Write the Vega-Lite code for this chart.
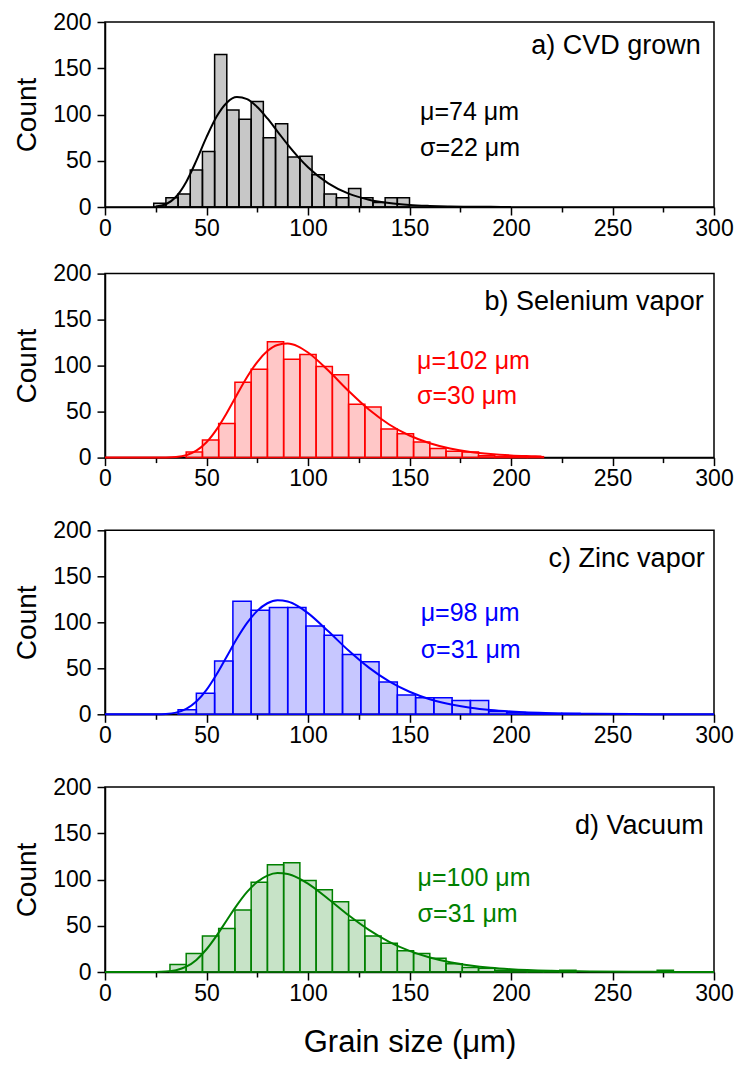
{
  "$schema": "https://vega.github.io/schema/vega-lite/v6.json",
  "background": "white",
  "padding": {"left": 12, "top": 10, "right": 5, "bottom": 5},
  "config": {
    "font": "Liberation Sans",
    "view": {"stroke": "black", "strokeWidth": 1.5},
    "axis": {
      "domainColor": "black", "domainWidth": 1.5, "tickColor": "black", "tickWidth": 1.5,
      "labelFont": "Liberation Sans", "labelFontSize": 23, "labelColor": "black",
      "titleFont": "Liberation Sans", "titleFontWeight": "normal", "titleColor": "black",
      "grid": false, "labelFlush": false, "labelOverlap": false, "labelBound": false
    },
    "axisX": {"labelPadding": 2, "titleFontSize": 31, "titlePadding": 22},
    "axisY": {"labelPadding": 6, "titleFontSize": 28, "titlePadding": 11}
  },
  "datasets": {
    "bars": [
      {"p":"a","x0":24,"x1":30,"n":4},{"p":"a","x0":30,"x1":36,"n":10},{"p":"a","x0":36,"x1":42,"n":14},{"p":"a","x0":42,"x1":48,"n":40},{"p":"a","x0":48,"x1":54,"n":60},{"p":"a","x0":54,"x1":60,"n":165},{"p":"a","x0":60,"x1":66,"n":105},{"p":"a","x0":66,"x1":72,"n":95},{"p":"a","x0":72,"x1":78,"n":114},{"p":"a","x0":78,"x1":84,"n":75},{"p":"a","x0":84,"x1":90,"n":90},{"p":"a","x0":90,"x1":96,"n":54},{"p":"a","x0":96,"x1":102,"n":55},{"p":"a","x0":102,"x1":108,"n":35},{"p":"a","x0":108,"x1":114,"n":14},{"p":"a","x0":114,"x1":120,"n":10},{"p":"a","x0":120,"x1":126,"n":20},{"p":"a","x0":126,"x1":132,"n":10},{"p":"a","x0":132,"x1":138,"n":5},{"p":"a","x0":138,"x1":144,"n":10},{"p":"a","x0":144,"x1":150,"n":10},
      {"p":"b","x0":40,"x1":48,"n":6},{"p":"b","x0":48,"x1":56,"n":19},{"p":"b","x0":56,"x1":64,"n":37},{"p":"b","x0":64,"x1":72,"n":82},{"p":"b","x0":72,"x1":80,"n":96},{"p":"b","x0":80,"x1":88,"n":126},{"p":"b","x0":88,"x1":96,"n":107},{"p":"b","x0":96,"x1":104,"n":112},{"p":"b","x0":104,"x1":112,"n":99},{"p":"b","x0":112,"x1":120,"n":90},{"p":"b","x0":120,"x1":128,"n":58},{"p":"b","x0":128,"x1":136,"n":55},{"p":"b","x0":136,"x1":144,"n":31},{"p":"b","x0":144,"x1":152,"n":26},{"p":"b","x0":152,"x1":160,"n":17},{"p":"b","x0":160,"x1":168,"n":10},{"p":"b","x0":168,"x1":176,"n":7},{"p":"b","x0":176,"x1":184,"n":6},{"p":"b","x0":184,"x1":192,"n":2},{"p":"b","x0":192,"x1":200,"n":1},{"p":"b","x0":200,"x1":208,"n":1},{"p":"b","x0":208,"x1":216,"n":1},
      {"p":"c","x0":36,"x1":45,"n":5},{"p":"c","x0":45,"x1":54,"n":23},{"p":"c","x0":54,"x1":63,"n":58},{"p":"c","x0":63,"x1":72,"n":123},{"p":"c","x0":72,"x1":81,"n":113},{"p":"c","x0":81,"x1":90,"n":116},{"p":"c","x0":90,"x1":99,"n":116},{"p":"c","x0":99,"x1":108,"n":96},{"p":"c","x0":108,"x1":117,"n":86},{"p":"c","x0":117,"x1":126,"n":65},{"p":"c","x0":126,"x1":135,"n":57},{"p":"c","x0":135,"x1":144,"n":35},{"p":"c","x0":144,"x1":153,"n":21},{"p":"c","x0":153,"x1":162,"n":18},{"p":"c","x0":162,"x1":171,"n":18},{"p":"c","x0":171,"x1":180,"n":15},{"p":"c","x0":180,"x1":189,"n":15},{"p":"c","x0":189,"x1":198,"n":3},{"p":"c","x0":198,"x1":207,"n":2},{"p":"c","x0":207,"x1":216,"n":1},{"p":"c","x0":216,"x1":225,"n":1},{"p":"c","x0":225,"x1":234,"n":1},
      {"p":"d","x0":32,"x1":40,"n":8},{"p":"d","x0":40,"x1":48,"n":20},{"p":"d","x0":48,"x1":56,"n":39},{"p":"d","x0":56,"x1":64,"n":47},{"p":"d","x0":64,"x1":72,"n":67},{"p":"d","x0":72,"x1":80,"n":97},{"p":"d","x0":80,"x1":88,"n":116},{"p":"d","x0":88,"x1":96,"n":118},{"p":"d","x0":96,"x1":104,"n":99},{"p":"d","x0":104,"x1":112,"n":89},{"p":"d","x0":112,"x1":120,"n":76},{"p":"d","x0":120,"x1":128,"n":56},{"p":"d","x0":128,"x1":136,"n":39},{"p":"d","x0":136,"x1":144,"n":31},{"p":"d","x0":144,"x1":152,"n":23},{"p":"d","x0":152,"x1":160,"n":20},{"p":"d","x0":160,"x1":168,"n":15},{"p":"d","x0":168,"x1":176,"n":9},{"p":"d","x0":176,"x1":184,"n":5},{"p":"d","x0":184,"x1":192,"n":4},{"p":"d","x0":192,"x1":200,"n":2},{"p":"d","x0":200,"x1":208,"n":2},{"p":"d","x0":208,"x1":216,"n":1},{"p":"d","x0":216,"x1":224,"n":1},{"p":"d","x0":224,"x1":232,"n":2},{"p":"d","x0":272,"x1":280,"n":2}
    ],
    "fit": [
      {"p":"a","x":25,"y":0.46},{"p":"a","x":30,"y":3.0},{"p":"a","x":35,"y":11.1},{"p":"a","x":40,"y":27.1},{"p":"a","x":45,"y":50.1},{"p":"a","x":50,"y":75.5},{"p":"a","x":55,"y":97.8},{"p":"a","x":60,"y":112.8},{"p":"a","x":65,"y":118.8},{"p":"a","x":70,"y":116.6},{"p":"a","x":75,"y":108.1},{"p":"a","x":80,"y":95.7},{"p":"a","x":85,"y":81.6},{"p":"a","x":90,"y":67.4},{"p":"a","x":95,"y":54.4},{"p":"a","x":100,"y":42.9},{"p":"a","x":110,"y":25.5},{"p":"a","x":120,"y":14.4},{"p":"a","x":130,"y":7.9},{"p":"a","x":140,"y":4.2},{"p":"a","x":150,"y":2.2},{"p":"a","x":160,"y":1.2},{"p":"a","x":170,"y":0.6},{"p":"a","x":180,"y":0.3},{"p":"a","x":190,"y":0.16},{"p":"a","x":200,"y":0.08},
      {"p":"b","x":0,"y":0},{"p":"b","x":20,"y":0},{"p":"b","x":30,"y":0.1},{"p":"b","x":35,"y":0.65},{"p":"b","x":40,"y":2.6},{"p":"b","x":45,"y":7.5},{"p":"b","x":50,"y":16.7},{"p":"b","x":55,"y":30.7},{"p":"b","x":60,"y":48.6},{"p":"b","x":65,"y":68.4},{"p":"b","x":70,"y":87.6},{"p":"b","x":75,"y":103.9},{"p":"b","x":80,"y":115.8},{"p":"b","x":85,"y":122.4},{"p":"b","x":90,"y":123.9},{"p":"b","x":95,"y":120.9},{"p":"b","x":100,"y":114.2},{"p":"b","x":110,"y":94.6},{"p":"b","x":120,"y":72.4},{"p":"b","x":130,"y":52.2},{"p":"b","x":140,"y":36.0},{"p":"b","x":150,"y":24.0},{"p":"b","x":160,"y":15.6},{"p":"b","x":170,"y":9.9},{"p":"b","x":180,"y":6.2},{"p":"b","x":190,"y":3.9},{"p":"b","x":200,"y":2.4},{"p":"b","x":210,"y":1.5},{"p":"b","x":215,"y":1.1},
      {"p":"c","x":0,"y":0},{"p":"c","x":20,"y":0},{"p":"c","x":25,"y":0.04},{"p":"c","x":30,"y":0.37},{"p":"c","x":35,"y":1.8},{"p":"c","x":40,"y":5.8},{"p":"c","x":45,"y":13.8},{"p":"c","x":50,"y":26.5},{"p":"c","x":55,"y":43.5},{"p":"c","x":60,"y":62.9},{"p":"c","x":65,"y":82.3},{"p":"c","x":70,"y":99.3},{"p":"c","x":75,"y":112.4},{"p":"c","x":80,"y":120.7},{"p":"c","x":85,"y":124.0},{"p":"c","x":90,"y":122.7},{"p":"c","x":95,"y":117.7},{"p":"c","x":100,"y":110.0},{"p":"c","x":110,"y":90.2},{"p":"c","x":120,"y":69.3},{"p":"c","x":130,"y":50.7},{"p":"c","x":140,"y":35.7},{"p":"c","x":150,"y":24.5},{"p":"c","x":160,"y":16.4},{"p":"c","x":170,"y":10.9},{"p":"c","x":180,"y":7.1},{"p":"c","x":190,"y":4.6},{"p":"c","x":200,"y":3.0},{"p":"c","x":220,"y":1.2},{"p":"c","x":240,"y":0.5},{"p":"c","x":260,"y":0.2},{"p":"c","x":280,"y":0.08},{"p":"c","x":300,"y":0.03},
      {"p":"d","x":0,"y":0},{"p":"d","x":20,"y":0},{"p":"d","x":25,"y":0.05},{"p":"d","x":30,"y":0.42},{"p":"d","x":35,"y":1.9},{"p":"d","x":40,"y":5.7},{"p":"d","x":45,"y":13.1},{"p":"d","x":50,"y":24.6},{"p":"d","x":55,"y":39.4},{"p":"d","x":60,"y":56.0},{"p":"d","x":65,"y":72.3},{"p":"d","x":70,"y":86.6},{"p":"d","x":75,"y":97.4},{"p":"d","x":80,"y":104.2},{"p":"d","x":85,"y":106.9},{"p":"d","x":90,"y":105.9},{"p":"d","x":95,"y":101.8},{"p":"d","x":100,"y":95.5},{"p":"d","x":110,"y":79.0},{"p":"d","x":120,"y":61.4},{"p":"d","x":130,"y":45.6},{"p":"d","x":140,"y":32.6},{"p":"d","x":150,"y":22.8},{"p":"d","x":160,"y":15.6},{"p":"d","x":170,"y":10.5},{"p":"d","x":180,"y":7.0},{"p":"d","x":190,"y":4.6},{"p":"d","x":200,"y":3.0},{"p":"d","x":220,"y":1.3},{"p":"d","x":240,"y":0.55},{"p":"d","x":260,"y":0.23},{"p":"d","x":280,"y":0.1},{"p":"d","x":300,"y":0.04}
    ],
    "notes": [
      {"p":"a","k":"title","x":293.5,"y":165.4,"t":"a) CVD grown"},
      {"p":"a","k":"stat","x":155.2,"y":94,"t":"μ=74 μm"},
      {"p":"a","k":"stat","x":155.2,"y":55,"t":"σ=22 μm"},
      {"p":"b","k":"title","x":294.9,"y":160.9,"t":"b) Selenium vapor"},
      {"p":"b","k":"stat","x":153.7,"y":96.7,"t":"μ=102 μm"},
      {"p":"b","k":"stat","x":153.7,"y":58.7,"t":"σ=30 μm"},
      {"p":"c","k":"title","x":295.4,"y":160.5,"t":"c) Zinc vapor"},
      {"p":"c","k":"stat","x":155.5,"y":101.9,"t":"μ=98 μm"},
      {"p":"c","k":"stat","x":155.5,"y":61.6,"t":"σ=31 μm"},
      {"p":"d","k":"title","x":294.9,"y":149.7,"t":"d) Vacuum"},
      {"p":"d","k":"stat","x":154,"y":93,"t":"μ=100 μm"},
      {"p":"d","k":"stat","x":154,"y":54,"t":"σ=31 μm"}
    ]
  },
  "bounds": "flush",
  "spacing": 66.6,
  "vconcat": [
    {
      "width": 609, "height": 185,
      "layer": [
        {"data": {"name": "bars"}, "transform": [{"filter": "datum.p === 'a'"}],
         "mark": {"type": "rect", "stroke": "#000000", "strokeWidth": 1.5, "fill": "#000000", "fillOpacity": 0.22},
         "encoding": {
           "x": {"field": "x0", "type": "quantitative", "scale": {"domain": [0, 300], "nice": false},
                 "axis": {"values": [0,25,50,75,100,125,150,175,200,225,250,275,300], "labelExpr": "datum.value % 50 === 0 ? datum.label : ''", "tickSize": {"condition": {"test": "datum.value % 50 === 0", "value": 8}, "value": 5}, "title": null}},
           "x2": {"field": "x1"},
           "y": {"field": "n", "type": "quantitative", "scale": {"domain": [0, 200], "nice": false},
                 "axis": {"values": [0,25,50,75,100,125,150,175,200], "labelExpr": "datum.value % 50 === 0 ? datum.label : ''", "tickSize": {"condition": {"test": "datum.value % 50 === 0", "value": 8}, "value": 5}, "title": "Count"}},
           "y2": {"datum": 0}
         }},
        {"data": {"name": "fit"}, "transform": [{"filter": "datum.p === 'a'"}],
         "mark": {"type": "line", "color": "#000000", "strokeWidth": 2, "interpolate": "monotone"},
         "encoding": {"x": {"field": "x", "type": "quantitative"}, "y": {"field": "y", "type": "quantitative"}}},
        {"data": {"name": "notes"}, "transform": [{"filter": "datum.p === 'a' && datum.k === 'title'"}],
         "mark": {"type": "text", "align": "right", "baseline": "alphabetic", "fontSize": 27, "color": "#000000"},
         "encoding": {"x": {"field": "x", "type": "quantitative"}, "y": {"field": "y", "type": "quantitative"}, "text": {"field": "t"}}},
        {"data": {"name": "notes"}, "transform": [{"filter": "datum.p === 'a' && datum.k === 'stat'"}],
         "mark": {"type": "text", "align": "left", "baseline": "alphabetic", "fontSize": 25, "color": "#000000"},
         "encoding": {"x": {"field": "x", "type": "quantitative"}, "y": {"field": "y", "type": "quantitative"}, "text": {"field": "t"}}}
      ]
    },
    {
      "bounds": "flush",
      "spacing": 72.7,
      "vconcat": [
        {
          "width": 609, "height": 184,
          "layer": [
            {"data": {"name": "bars"}, "transform": [{"filter": "datum.p === 'b'"}],
             "mark": {"type": "rect", "stroke": "#FF0000", "strokeWidth": 1.5, "fill": "#FF0000", "fillOpacity": 0.22},
             "encoding": {
               "x": {"field": "x0", "type": "quantitative", "scale": {"domain": [0, 300], "nice": false},
                     "axis": {"values": [0,25,50,75,100,125,150,175,200,225,250,275,300], "labelExpr": "datum.value % 50 === 0 ? datum.label : ''", "tickSize": {"condition": {"test": "datum.value % 50 === 0", "value": 8}, "value": 5}, "title": null}},
               "x2": {"field": "x1"},
               "y": {"field": "n", "type": "quantitative", "scale": {"domain": [0, 200], "nice": false},
                     "axis": {"values": [0,25,50,75,100,125,150,175,200], "labelExpr": "datum.value % 50 === 0 ? datum.label : ''", "tickSize": {"condition": {"test": "datum.value % 50 === 0", "value": 8}, "value": 5}, "title": "Count"}},
               "y2": {"datum": 0}
             }},
            {"data": {"name": "fit"}, "transform": [{"filter": "datum.p === 'b'"}],
             "mark": {"type": "line", "color": "#FF0000", "strokeWidth": 2, "interpolate": "monotone"},
             "encoding": {"x": {"field": "x", "type": "quantitative"}, "y": {"field": "y", "type": "quantitative"}}},
            {"data": {"name": "notes"}, "transform": [{"filter": "datum.p === 'b' && datum.k === 'title'"}],
             "mark": {"type": "text", "align": "right", "baseline": "alphabetic", "fontSize": 27, "color": "#000000"},
             "encoding": {"x": {"field": "x", "type": "quantitative"}, "y": {"field": "y", "type": "quantitative"}, "text": {"field": "t"}}},
            {"data": {"name": "notes"}, "transform": [{"filter": "datum.p === 'b' && datum.k === 'stat'"}],
             "mark": {"type": "text", "align": "left", "baseline": "alphabetic", "fontSize": 25, "color": "#FF0000"},
             "encoding": {"x": {"field": "x", "type": "quantitative"}, "y": {"field": "y", "type": "quantitative"}, "text": {"field": "t"}}}
          ]
        },
        {
          "width": 609, "height": 184,
          "layer": [
            {"data": {"name": "bars"}, "transform": [{"filter": "datum.p === 'c'"}],
             "mark": {"type": "rect", "stroke": "#0000FF", "strokeWidth": 1.5, "fill": "#0000FF", "fillOpacity": 0.22},
             "encoding": {
               "x": {"field": "x0", "type": "quantitative", "scale": {"domain": [0, 300], "nice": false},
                     "axis": {"values": [0,25,50,75,100,125,150,175,200,225,250,275,300], "labelExpr": "datum.value % 50 === 0 ? datum.label : ''", "tickSize": {"condition": {"test": "datum.value % 50 === 0", "value": 8}, "value": 5}, "title": null}},
               "x2": {"field": "x1"},
               "y": {"field": "n", "type": "quantitative", "scale": {"domain": [0, 200], "nice": false},
                     "axis": {"values": [0,25,50,75,100,125,150,175,200], "labelExpr": "datum.value % 50 === 0 ? datum.label : ''", "tickSize": {"condition": {"test": "datum.value % 50 === 0", "value": 8}, "value": 5}, "title": "Count"}},
               "y2": {"datum": 0}
             }},
            {"data": {"name": "fit"}, "transform": [{"filter": "datum.p === 'c'"}],
             "mark": {"type": "line", "color": "#0000FF", "strokeWidth": 2, "interpolate": "monotone"},
             "encoding": {"x": {"field": "x", "type": "quantitative"}, "y": {"field": "y", "type": "quantitative"}}},
            {"data": {"name": "notes"}, "transform": [{"filter": "datum.p === 'c' && datum.k === 'title'"}],
             "mark": {"type": "text", "align": "right", "baseline": "alphabetic", "fontSize": 27, "color": "#000000"},
             "encoding": {"x": {"field": "x", "type": "quantitative"}, "y": {"field": "y", "type": "quantitative"}, "text": {"field": "t"}}},
            {"data": {"name": "notes"}, "transform": [{"filter": "datum.p === 'c' && datum.k === 'stat'"}],
             "mark": {"type": "text", "align": "left", "baseline": "alphabetic", "fontSize": 25, "color": "#0000FF"},
             "encoding": {"x": {"field": "x", "type": "quantitative"}, "y": {"field": "y", "type": "quantitative"}, "text": {"field": "t"}}}
          ]
        },
        {
          "width": 609, "height": 185,
          "layer": [
            {"data": {"name": "bars"}, "transform": [{"filter": "datum.p === 'd'"}],
             "mark": {"type": "rect", "stroke": "#008000", "strokeWidth": 1.5, "fill": "#008000", "fillOpacity": 0.22},
             "encoding": {
               "x": {"field": "x0", "type": "quantitative", "scale": {"domain": [0, 300], "nice": false},
                     "axis": {"values": [0,25,50,75,100,125,150,175,200,225,250,275,300], "labelExpr": "datum.value % 50 === 0 ? datum.label : ''", "tickSize": {"condition": {"test": "datum.value % 50 === 0", "value": 8}, "value": 5}, "title": "Grain size (μm)"}},
               "x2": {"field": "x1"},
               "y": {"field": "n", "type": "quantitative", "scale": {"domain": [0, 200], "nice": false},
                     "axis": {"values": [0,25,50,75,100,125,150,175,200], "labelExpr": "datum.value % 50 === 0 ? datum.label : ''", "tickSize": {"condition": {"test": "datum.value % 50 === 0", "value": 8}, "value": 5}, "title": "Count"}},
               "y2": {"datum": 0}
             }},
            {"data": {"name": "fit"}, "transform": [{"filter": "datum.p === 'd'"}],
             "mark": {"type": "line", "color": "#008000", "strokeWidth": 2, "interpolate": "monotone"},
             "encoding": {"x": {"field": "x", "type": "quantitative"}, "y": {"field": "y", "type": "quantitative"}}},
            {"data": {"name": "notes"}, "transform": [{"filter": "datum.p === 'd' && datum.k === 'title'"}],
             "mark": {"type": "text", "align": "right", "baseline": "alphabetic", "fontSize": 27, "color": "#000000"},
             "encoding": {"x": {"field": "x", "type": "quantitative"}, "y": {"field": "y", "type": "quantitative"}, "text": {"field": "t"}}},
            {"data": {"name": "notes"}, "transform": [{"filter": "datum.p === 'd' && datum.k === 'stat'"}],
             "mark": {"type": "text", "align": "left", "baseline": "alphabetic", "fontSize": 25, "color": "#008000"},
             "encoding": {"x": {"field": "x", "type": "quantitative"}, "y": {"field": "y", "type": "quantitative"}, "text": {"field": "t"}}}
          ]
        }
      ]
    }
  ]
}
